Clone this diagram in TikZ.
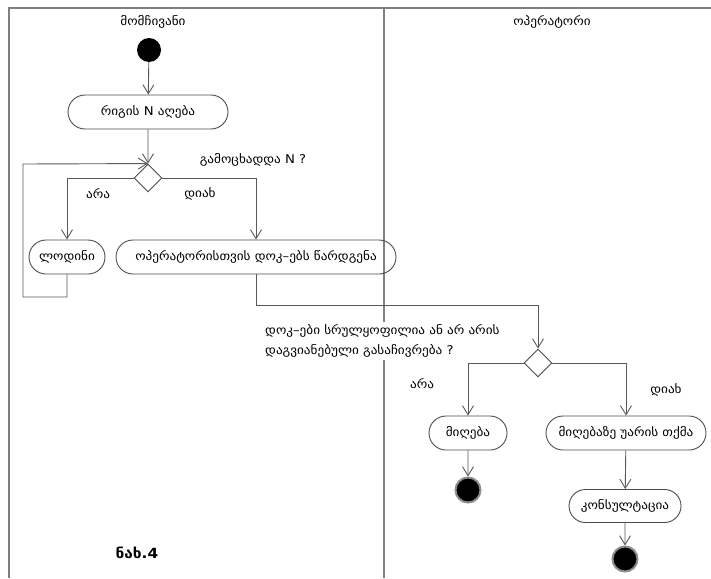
\documentclass[tikz,border=0pt]{standalone}
\usepackage{fontspec}
\setmainfont{DejaVu Sans}[FakeStretch=1.1]
\usetikzlibrary{arrows.meta,shapes.geometric,shapes.misc}
\tikzset{
  frame/.style={draw=black!50, line width=1.6pt},
  conn/.style={draw=black!65, line width=0.9pt},
  arr/.style={conn, -{Straight Barb[length=9pt,width=11pt,line width=0.9pt]}},
  act/.style={rounded rectangle, draw=black!70, line width=0.9pt, minimum height=34pt, inner sep=0pt, font=\fontsize{12}{14}\selectfont},
  dec/.style={diamond, draw=black!70, line width=0.9pt, fill=white, minimum width=28pt, minimum height=28pt, inner sep=0pt},
  startnode/.style={circle, fill=black, minimum size=24pt, inner sep=0pt},
  endnode/.style={circle, fill=black, draw=black!45, line width=2pt, minimum size=25pt, inner sep=0pt},
  lbl/.style={font=\fontsize{12}{14}\selectfont, inner sep=1pt},
  title/.style={font=\fontsize{12}{15}\selectfont, inner sep=1pt}
}
\begin{document}
\begin{tikzpicture}[x=1pt,y=-1pt]
\useasboundingbox (0,0) rectangle (711,578);
% frame
\coordinate (tr) at (711,8);
\coordinate (tl) at (9,8);
\coordinate (bl) at (9,578);
\coordinate (dt) at (384,8);
\coordinate (db) at (384,578);
\draw[frame] (tr) -- (tl) -- (bl);
\draw[frame] (dt) -- (db);
% titles
\node[title] (t1) at (153,22) {მომჩივანი};
\node[title] (t2) at (552,22) {ოპერატორი};
% nodes
\node[startnode] (s) at (149,50) {};
\node[act, minimum width=160pt] (n1) at (148,112) {რიგის N აღება};
\node[dec] (d1) at (148,178) {};
\node[act, minimum width=76pt] (wait) at (67,257) {ლოდინი};
\node[act, minimum width=280pt] (sub) at (256,257) {ოპერატორისთვის დოკ–ებს წარდგენა};
\node[dec] (d2) at (538,363) {};
\node[act, minimum width=78pt] (acc) at (468,433) {მიღება};
\node[act, minimum width=160pt] (ref) at (626,433) {მიღებაზე უარის თქმა};
\node[act, minimum width=112pt, minimum height=33pt] (con) at (625,506) {კონსულტაცია};
\node[endnode] (e1) at (468,490) {};
\node[endnode] (e2) at (625,559) {};
% labels
\node[lbl] (q1) at (253,160) {გამოცხადდა N ?};
\node[lbl] (y1) at (98,194) {არა};
\node[lbl] (n1l) at (200,194) {დიახ};
\node[lbl, fill=white, align=left, anchor=west, inner sep=3pt, font=\fontsize{12}{20}\selectfont] (q2) at (262,341) {დოკ–ები სრულყოფილია ან არ არის\\დაგვიანებული გასაჩივრება ?};
\node[lbl] (y2) at (422,384) {არა};
\node[lbl] (n2l) at (666,390) {დიახ};
\node[font=\fontsize{14}{16}\selectfont\bfseries] (fig) at (137,553) {ნახ.4};
% connectors
\coordinate (l1) at (23,297);
\coordinate (l2) at (23,164);
\coordinate (c1) at (538,305);
\draw[arr] (s) -- (n1);
\draw[arr] (n1) -- (d1);
\draw[arr] (d1.west) -| (wait.north);
\draw[arr] (d1.east) -| (sub.north);
\draw[arr] (wait.south) |- (l1) -- (l2) -- (d1.north);
\draw[arr] (sub.south) |- (c1) -- (d2.north);
\draw[arr] (d2.west) -| (acc.north);
\draw[arr] (d2.east) -| (ref.north);
\draw[arr] (acc) -- (e1);
\draw[arr] (ref) -- (con);
\draw[arr] (con) -- (e2);
\end{tikzpicture}
\end{document}
